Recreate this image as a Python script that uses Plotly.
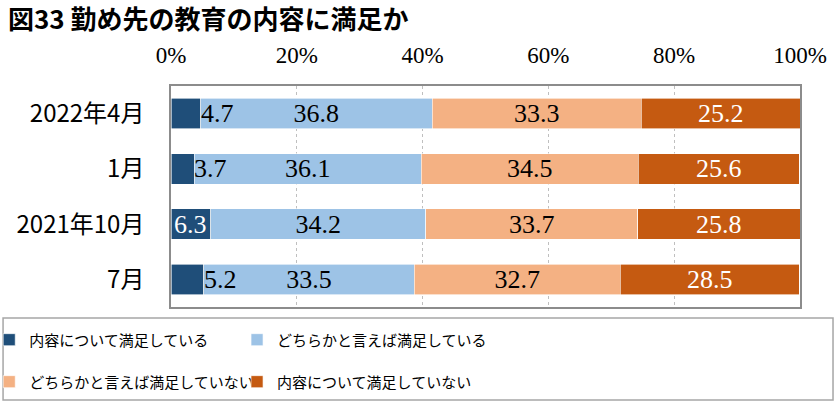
import plotly.graph_objects as go

categories = ["2022年4月", "1月", "2021年10月", "7月"]
series_names = ["内容について満足している", "どちらかと言えば満足している",
                "どちらかと言えば満足していない", "内容について満足していない"]
satisfied = [4.7, 3.7, 6.3, 5.2]
somewhat_satisfied = [36.8, 36.1, 34.2, 33.5]
somewhat_unsatisfied = [33.3, 34.5, 33.7, 32.7]
unsatisfied = [25.2, 25.6, 25.8, 28.5]
tick_vals = [0, 20, 40, 60, 80, 100]
tick_text = ["0%", "20%", "40%", "60%", "80%", "100%"]

colors = ["#1F4E79", "#9DC3E6", "#F4B183", "#C55A11"]
text_colors = ["#000000", "#000000", "#000000", "#FFFFFF"]
serif = "Liberation Serif"
sans = "Noto Sans CJK JP"

series = [satisfied, somewhat_satisfied, somewhat_unsatisfied, unsatisfied]
legends = ["legend", "legend2", "legend3", "legend4"]

fig = go.Figure()
for i, (name, vals) in enumerate(zip(series_names, series)):
    fig.add_trace(go.Bar(
        y=categories, x=vals, name=name, orientation="h",
        marker=dict(color=colors[i], line=dict(color="white", width=0.6)),
        width=0.55,
        text=[f"{v:.1f}" for v in vals] if i > 0 else None,
        textposition="inside" if i > 0 else "none",
        insidetextanchor="middle",
        constraintext="none",
        textfont=dict(family=serif, size=26, color=text_colors[i]),
        legend=legends[i],
        hoverinfo="skip",
    ))

# labels for the first (thin) segment
for cat, v in zip(categories, satisfied):
    if v >= 6:
        fig.add_annotation(x=v / 2, y=cat, text=f"{v:.1f}", showarrow=False,
                           xanchor="center", yanchor="middle",
                           font=dict(family=serif, size=26, color="white"))
    else:
        fig.add_annotation(x=v, y=cat, text=f"{v:.1f}", showarrow=False,
                           xanchor="left", yanchor="middle", xshift=-2,
                           font=dict(family=serif, size=26, color="black"))

# legend frame
fig.add_shape(type="rect", xref="paper", yref="paper",
              x0=-0.267, x1=1.0525, y0=-0.0498, y1=-0.4208,
              line=dict(color="#A6A6A6", width=1.5), fillcolor="rgba(0,0,0,0)")

legend_common = dict(orientation="h", xanchor="left", yanchor="middle",
                     font=dict(family=sans, size=15, color="black"),
                     itemwidth=30, bgcolor="rgba(0,0,0,0)")

col1_x = -0.289
col2_x = 0.105
row1_y = -0.149
row2_y = -0.339

fig.update_layout(
    width=838, height=406,
    margin=dict(l=171, r=38, t=86, b=99, autoexpand=False),
    barmode="stack",
    plot_bgcolor="white", paper_bgcolor="white",
    title=dict(text="<b>図33 勤め先の教育の内容に満足か</b>",
               x=8 / 838, xanchor="left", xref="container",
               y=1 - 20 / 406, yanchor="middle", yref="container",
               font=dict(family=sans, size=26, color="black")),
    xaxis=dict(range=[0, 100], side="top", tickvals=tick_vals, ticktext=tick_text,
               tickfont=dict(family=serif, size=23, color="black"),
               showgrid=True, gridcolor="#BFBFBF", griddash="dot", gridwidth=1,
               showline=True, linecolor="#8C8C8C", linewidth=1.5, mirror=True,
               ticks="outside", ticklen=0, ticklabelstandoff=12, zeroline=False,
               fixedrange=True, automargin=False),
    yaxis=dict(categoryorder="array", categoryarray=categories, autorange="reversed",
               tickfont=dict(family=sans, size=24, color="black"),
               showline=True, linecolor="#8C8C8C", linewidth=1.5, mirror=True,
               ticks="outside", ticklen=0, ticklabelstandoff=20, showgrid=False,
               fixedrange=True, automargin=False),
    legend=dict(x=col1_x, y=row1_y, **legend_common),
    legend2=dict(x=col2_x, y=row1_y, **legend_common),
    legend3=dict(x=col1_x, y=row2_y, **legend_common),
    legend4=dict(x=col2_x, y=row2_y, **legend_common),
    showlegend=True,
)

fig.write_html("out.html")
